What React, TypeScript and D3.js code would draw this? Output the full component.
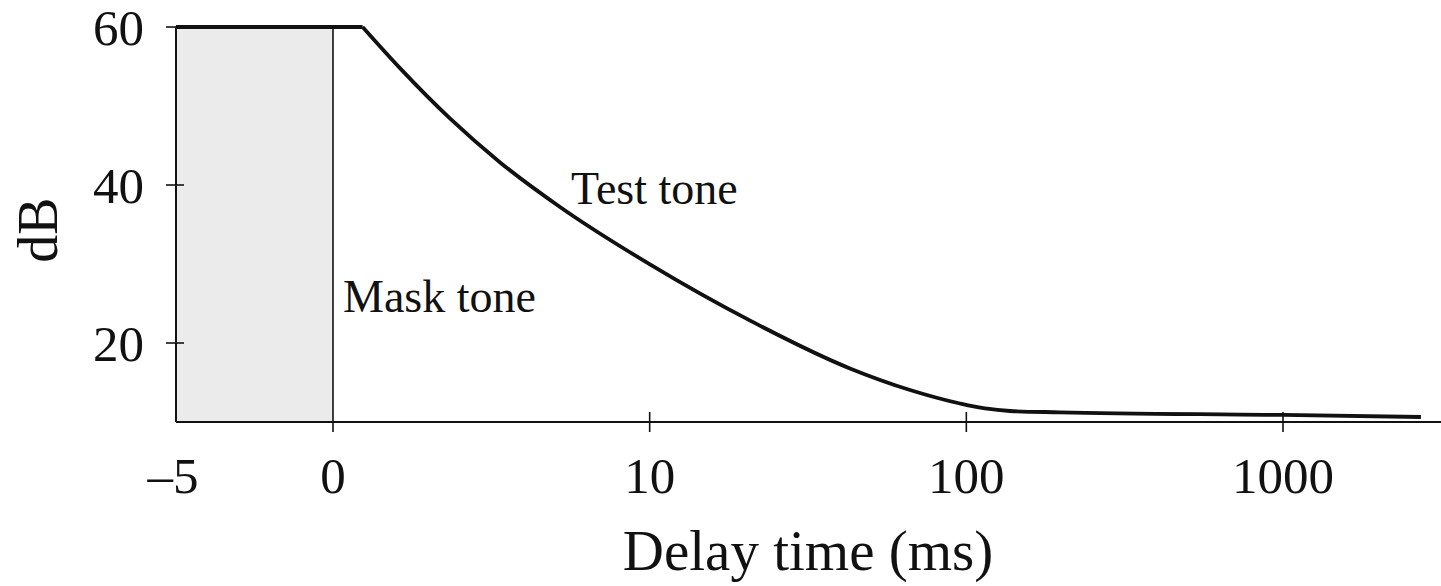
import React from 'react';
import { scaleLinear, scaleLog, line, curveMonotoneX } from 'd3';

// test tone threshold (delay in ms, level in dB)
const testDelay = [1.24, 1.63, 2.34, 3.37, 5.21, 10.02, 20.7, 42.9, 66.4, 95.5, 114.5, 137.3, 197.6, 1000, 2726];
const testDb = [60, 54.76, 48.43, 42.86, 37.22, 29.95, 22.86, 16.78, 14.05, 12.34, 11.71, 11.39, 11.23, 10.89, 10.63];

// mask tone interval (linear part of the axis)
const maskRange = [-5, 0];
const maskTicks = [-5, 0];
const delayTicks = [10, 100, 1000];
const dbTicks = [20, 40, 60];
const maskLevel = 60;

const W = 1441;
const H = 586;

const App = () => {
    const xMask = scaleLinear().domain(maskRange).range([176, 333]);
    const xLog = scaleLog().domain([1, 1000]).range([333, 1283]);
    const y = scaleLinear().domain([10, 60]).range([422, 27]);

    const pts = testDelay.map((d, i) => [xLog(d), y(testDb[i])] as [number, number]);
    const curve = line().curve(curveMonotoneX)(pts);
    const plateau = line()([[xMask(maskRange[0]), y(maskLevel)], [xLog(testDelay[0]), y(testDb[0])]]);

    const font = '"Liberation Serif", "Times New Roman", serif';
    const ink = '#111';

    return (
        <svg width={W} height={H} style={{ position: 'absolute', left: 0, top: 0 }} fontFamily={font}>
            <rect x={xMask(-5)} y={y(60)} width={xMask(0) - xMask(-5)} height={y(10) - y(60)} fill='#ebebeb' />
            <line x1={xMask(0)} x2={xMask(0)} y1={y(60)} y2={y(10) + 10} stroke={ink} strokeWidth={1.6} />

            {/* y axis */}
            <line x1={xMask(-5)} x2={xMask(-5)} y1={y(60)} y2={y(10)} stroke={ink} strokeWidth={2} />
            {dbTicks.map(t => (
                <g key={t}>
                    <line x1={166} x2={t === 60 ? 176 : 184} y1={y(t)} y2={y(t)} stroke={ink} strokeWidth={1.6} />
                    <text x={144} y={y(t) + 18} textAnchor='end' fontSize={51} fill={ink}>{t}</text>
                </g>
            ))}
            <text transform={`translate(57, 230) rotate(-90)`} textAnchor='middle' fontSize={56} fill={ink}>dB</text>

            {/* x axis */}
            <line x1={xMask(-5)} x2={W} y1={y(10)} y2={y(10)} stroke={ink} strokeWidth={2} />
            {maskTicks.map(t => (
                <text key={t} x={xMask(t) - (t < 0 ? 3 : 0)} y={493} textAnchor='middle' fontSize={51} fill={ink}>{t < 0 ? `\u2013${-t}` : t}</text>
            ))}
            {delayTicks.map(t => (
                <g key={t}>
                    <line x1={xLog(t)} x2={xLog(t)} y1={y(10) - 10} y2={y(10) + 10} stroke={ink} strokeWidth={1.6} />
                    <text x={xLog(t)} y={493} textAnchor='middle' fontSize={51} fill={ink}>{t}</text>
                </g>
            ))}
            <text x={808} y={570} textAnchor='middle' fontSize={57} fill={ink}>Delay time (ms)</text>

            {/* test tone */}
            <path d={plateau} fill='none' stroke={ink} strokeWidth={3.8} />
            <path d={curve} fill='none' stroke={ink} strokeWidth={3.8} strokeLinejoin='round' />

            <text x={571} y={204} fontSize={46} fill={ink}>Test tone</text>
            <text x={343} y={312} fontSize={46} fill={ink}>Mask tone</text>
        </svg>
    );
};

export default App;
